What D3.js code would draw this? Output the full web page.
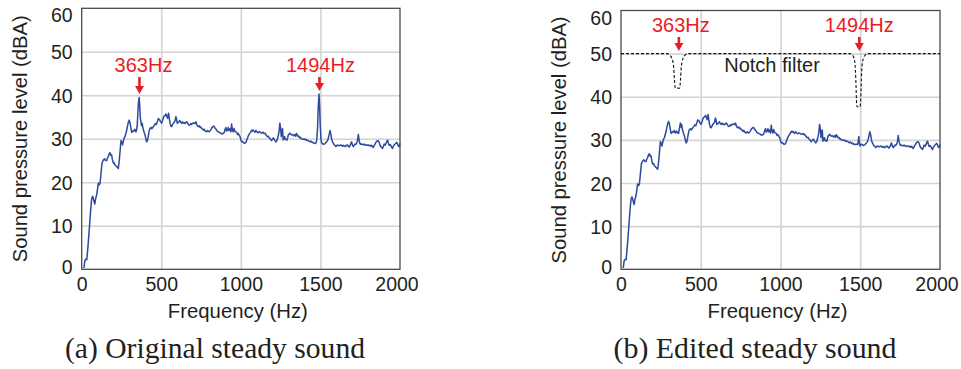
<!DOCTYPE html>
<html>
<head>
<meta charset="utf-8">
<script src="https://cdn.jsdelivr.net/npm/d3@7/dist/d3.min.js"></script>
<style>
  body { margin: 0; background: #fff; }
  svg { display: block; }
  .tick text { font-family: "Liberation Sans", Arial, sans-serif; font-size: 19.5px; fill: #231f20; }
  .grid line { stroke: #d4d4d4; stroke-width: 1.6px; }
  .grid .domain { display: none; }
</style>
</head>
<body>
<div id="chart"></div>
<script>
// spectrum of the original steady sound, [frequency Hz, level dBA]
var spectrum = [
  [14,0.3],[20,2.0],[26,2.3],[32,2.2],[40,5.5],[48,9.4],[56,13.5],[63,16.3],[69,16.8],[75,16.0],
  [82,15.0],[88,16.3],[94,17.1],[99,18.3],[104,19.8],[110,19.4],[115,19.7],[120,21.5],[128,24.5],[136,25.1],
  [144,25.4],[150,25.0],[157,25.0],[162,25.6],[167,25.9],[172,26.5],[178,26.8],[183,26.2],[188,26.3],[193,25.2],
  [199,24.4],[204,24.5],[209,24.0],[215,23.8],[220,23.6],[225,23.4],[230,23.2],[236,25.0],[242,27.5],[247,29.6],
  [251,29.3],[257,28.6],[262,29.5],[266,30.1],[272,30.5],[278,31.3],[283,32.0],[287,32.8],[293,33.8],[299,34.3],
  [304,33.6],[309,32.5],[314,31.5],[318,31.6],[323,31.9],[329,31.8],[334,32.2],[340,31.6],[345,32.0],[349,33.2],
  [353,36.0],[357,38.5],[361,39.5],[364,38.0],[368,35.0],[372,33.9],[376,33.0],[380,33.6],[385,32.4],[390,31.8],
  [394,31.3],[398,30.9],[403,30.0],[408,29.3],[413,29.6],[418,30.5],[424,31.8],[429,32.4],[435,32.6],[440,32.3],
  [446,32.6],[452,32.9],[458,33.2],[463,33.5],[469,33.3],[475,33.9],[481,34.6],[488,34.5],[494,34.0],[502,33.6],
  [508,34.2],[513,34.8],[517,35.2],[523,35.3],[530,35.7],[535,35.2],[540,34.7],[546,35.9],[550,34.8],[555,33.6],
  [560,32.9],[565,32.8],[570,33.2],[576,33.6],[581,33.8],[587,34.2],[592,35.1],[596,34.6],[600,33.6],[606,33.7],
  [612,34.0],[617,34.2],[622,33.8],[628,33.6],[633,33.9],[638,33.6],[644,33.7],[650,33.5],[655,33.8],[660,33.9],
  [665,33.7],[670,33.3],[675,33.1],[680,33.2],[686,33.5],[691,33.3],[696,33.6],[701,33.6],[706,33.7],[712,33.5],
  [718,33.9],[723,33.3],[728,32.9],[733,32.8],[739,33.0],[744,32.6],[749,32.7],[754,32.4],[759,32.3],[764,32.0],
  [770,32.2],[775,31.8],[780,31.7],[785,31.6],[791,31.9],[796,31.7],[801,31.6],[806,31.8],[812,32.1],[817,32.5],
  [822,32.7],[827,32.9],[831,32.9],[837,32.5],[842,32.3],[848,32.0],[853,31.7],[858,31.6],[863,31.5],[869,31.4],
  [874,31.3],[880,31.1],[885,31.2],[890,31.2],[896,31.5],[901,32.2],[906,32.6],[911,31.8],[916,32.0],[921,32.6],
  [926,31.9],[932,32.3],[937,31.6],[942,33.4],[947,32.0],[952,31.6],[957,32.4],[963,31.7],[968,31.6],[974,31.5],
  [979,31.0],[984,31.2],[990,30.8],[995,30.5],[1000,29.8],[1005,29.3],[1011,29.4],[1016,29.2],[1021,29.0],[1026,29.0],
  [1031,29.1],[1036,29.6],[1042,30.2],[1047,30.7],[1052,31.0],[1057,31.3],[1063,31.6],[1068,32.0],[1073,31.8],[1078,32.0],
  [1084,31.7],[1089,31.5],[1094,31.9],[1099,31.7],[1104,31.5],[1110,31.4],[1115,31.6],[1120,31.6],[1125,31.4],[1131,31.3],
  [1136,31.4],[1141,31.5],[1146,31.2],[1152,31.3],[1157,31.0],[1162,30.7],[1167,30.5],[1173,30.6],[1178,30.2],[1183,30.1],
  [1188,29.8],[1193,29.6],[1199,29.9],[1204,30.2],[1209,30.0],[1215,29.6],[1220,29.3],[1226,29.5],[1231,30.2],[1236,30.8],
  [1241,32.0],[1245,33.6],[1250,32.5],[1254,30.5],[1258,31.8],[1262,32.3],[1266,29.7],[1270,30.1],[1275,30.5],[1280,29.8],
  [1285,29.9],[1290,29.7],[1294,30.2],[1298,30.9],[1303,31.1],[1308,31.3],[1313,31.0],[1318,30.9],[1323,31.0],[1329,30.8],
  [1334,30.7],[1339,31.0],[1345,30.6],[1350,31.2],[1355,30.9],[1360,30.5],[1366,30.6],[1371,30.2],[1376,30.3],[1381,30.0],
  [1387,29.9],[1392,29.9],[1397,30.0],[1402,29.8],[1408,29.9],[1413,29.6],[1418,29.7],[1423,29.6],[1429,29.4],[1434,29.3],
  [1439,29.5],[1444,29.3],[1450,29.1],[1455,29.2],[1460,29.0],[1466,28.9],[1472,29.0],[1477,29.8],[1482,32.5],[1486,37.0],
  [1491,40.3],[1495,37.5],[1499,33.0],[1503,30.0],[1508,29.0],[1513,28.9],[1518,28.7],[1523,28.8],[1529,28.9],[1534,29.1],
  [1539,29.3],[1545,29.6],[1550,30.2],[1555,31.0],[1560,31.9],[1565,31.2],[1570,30.0],[1576,29.3],[1581,29.0],[1586,28.6],
  [1592,28.5],[1597,28.2],[1602,28.4],[1607,28.6],[1613,28.5],[1618,28.4],[1623,28.5],[1628,28.6],[1634,28.4],[1639,28.3],
  [1644,28.5],[1649,28.3],[1654,28.2],[1660,28.5],[1665,28.4],[1670,28.6],[1675,28.3],[1680,28.1],[1686,28.4],[1691,28.9],
  [1696,29.3],[1701,28.6],[1707,28.2],[1712,28.5],[1717,28.8],[1722,28.7],[1728,29.0],[1733,29.6],[1738,31.0],[1743,29.7],
  [1748,28.9],[1754,28.7],[1759,28.8],[1764,28.7],[1769,28.6],[1775,28.8],[1780,28.6],[1785,28.5],[1790,28.6],[1796,28.5],
  [1801,28.6],[1806,28.4],[1812,28.5],[1817,28.3],[1822,28.5],[1827,28.2],[1832,28.0],[1838,28.5],[1843,28.8],[1848,29.1],
  [1853,29.4],[1858,29.5],[1863,29.6],[1869,29.2],[1874,28.6],[1879,28.2],[1885,28.0],[1891,27.8],[1896,28.4],[1901,28.8],
  [1906,28.5],[1912,28.9],[1917,29.4],[1922,29.7],[1927,29.0],[1932,28.5],[1938,28.7],[1943,28.4],[1948,28.0],[1953,27.8],
  [1958,28.3],[1964,28.6],[1969,28.8],[1974,29.0],[1979,29.2],[1985,28.8],[1990,28.3],[1995,28.2],[2000,29.0]
];

// levels after the notch filter, replacing the original points near the peaks
var editedPoints = [
  [349,32.0],[353,31.6],[357,31.8],[361,31.5],[364,32.2],[368,33.0],
  [1477,29.0],[1482,28.9],[1486,29.3],[1491,30.8],[1495,29.0],[1499,28.6],[1503,29.0]
];

// notch filter response drawn in (b)
var notchFilter = [
  [0,50],[290,50],[305,49.7],[318,49],[326,48],[331,46.5],[335,44],[338,42.5],[341,42],[367,42],
  [370,42.5],[373,44],[377,46.5],[382,48],[390,49],[403,49.7],[418,50],
  [1435,50],[1450,49.7],[1460,49],[1466,48],[1470,46],[1474,42],[1477,38.5],[1480,37.7],[1499,37.7],
  [1502,38.5],[1505,42],[1509,46],[1514,48],[1521,49],[1532,49.7],[1548,50],[2000,50]
];

var peaks = [
  { freq: 363, label: "363Hz" },
  { freq: 1494, label: "1494Hz" }
];

var xTicks = [0, 500, 1000, 1500, 2000];
var yTicks = [0, 10, 20, 30, 40, 50, 60];
var captions = ["(a) Original steady sound", "(b) Edited steady sound"];

var editedMap = new Map(editedPoints.map(function(d) { return [d[0], d[1]]; }));
var editedSpectrum = spectrum.map(function(d) {
  return editedMap.has(d[0]) ? [d[0], editedMap.get(d[0])] : d;
});

var width = 961, height = 369;
var svg = d3.select("#chart").append("svg")
  .attr("width", width)
  .attr("height", height);

var sans = '"Liberation Sans", Arial, sans-serif';
var red = "#ec1c24";

function drawPanel(opt) {
  var x = d3.scaleLinear().domain([0, 2000]).range([opt.left, opt.right]);
  var y = d3.scaleLinear().domain([0, 60]).range([opt.bottom, opt.top]);
  var g = svg.append("g");

  // grid
  g.append("g").attr("class", "grid")
    .attr("transform", "translate(0," + opt.bottom + ")")
    .call(d3.axisBottom(x).tickValues(xTicks.slice(1, -1)).tickSize(-(opt.bottom - opt.top)).tickFormat(""));
  g.append("g").attr("class", "grid")
    .attr("transform", "translate(" + opt.left + ",0)")
    .call(d3.axisLeft(y).tickValues(yTicks.slice(1, -1)).tickSize(-(opt.right - opt.left)).tickFormat(""));

  // tick labels
  var ax = g.append("g")
    .attr("transform", "translate(0," + opt.bottom + ")")
    .call(d3.axisBottom(x).tickValues(xTicks).tickSize(0).tickPadding(8).tickFormat(d3.format("d")));
  ax.select(".domain").remove();
  ax.selectAll("text").attr("dy", "0.71em")
    .attr("dx", function(d) { return d === 2000 ? -3.5 : 0; });
  var ay = g.append("g")
    .attr("transform", "translate(" + opt.left + ",0)")
    .call(d3.axisLeft(y).tickValues(yTicks).tickSize(0).tickPadding(9));
  ay.select(".domain").remove();
  ay.selectAll("text")
    .attr("dy", function(d) { return d === 60 ? "0.7em" : d === 0 ? "0.22em" : "0.36em"; });

  // frame
  g.append("rect")
    .attr("x", opt.left).attr("y", opt.top)
    .attr("width", opt.right - opt.left).attr("height", opt.bottom - opt.top)
    .attr("fill", "none").attr("stroke", "#4a4a4a").attr("stroke-width", 1.3);

  var line = d3.line().x(function(d) { return x(d[0]); }).y(function(d) { return y(d[1]); });

  if (opt.filter) {
    g.append("path").datum(opt.filter)
      .attr("d", line.curve(d3.curveMonotoneX))
      .attr("fill", "none").attr("stroke", "#111").attr("stroke-width", 1.1)
      .attr("stroke-dasharray", "3,2");
    line.curve(d3.curveLinear);
    g.append("text")
      .attr("x", x(947)).attr("y", 72)
      .attr("text-anchor", "middle")
      .attr("font-family", sans).attr("font-size", 20).attr("fill", "#231f20")
      .text("Notch filter");
  }

  g.append("path").datum(opt.data)
    .attr("d", line)
    .attr("fill", "none").attr("stroke", "#2c4a9e").attr("stroke-width", 1.5)
    .attr("stroke-linejoin", "round");

  // peak labels and arrows
  peaks.forEach(function(p, i) {
    var px = x(p.freq);
    var a = opt.arrows[i];
    g.append("text")
      .attr("x", px + a.dx).attr("y", a.textY)
      .attr("text-anchor", "middle")
      .attr("font-family", sans).attr("font-size", 20).attr("fill", red)
      .text(p.label);
    g.append("line")
      .attr("x1", px).attr("x2", px)
      .attr("y1", a.y0).attr("y2", a.y1 - 6)
      .attr("stroke", red).attr("stroke-width", 2.6);
    g.append("path")
      .attr("d", "M" + (px - 4.5) + "," + (a.y1 - 8) + "L" + (px + 4.5) + "," + (a.y1 - 8) + "L" + px + "," + a.y1 + "Z")
      .attr("fill", red);
  });

  // axis titles
  g.append("text")
    .attr("transform", "translate(" + (opt.left - 55) + "," + ((opt.top + opt.bottom) / 2) + ") rotate(-90)")
    .attr("text-anchor", "middle")
    .attr("font-family", sans).attr("font-size", 20).attr("fill", "#231f20")
    .attr("textLength", 247).attr("lengthAdjust", "spacingAndGlyphs")
    .text("Sound pressure level (dBA)");
  g.append("text")
    .attr("x", (opt.left + opt.right) / 2 - 3).attr("y", 318)
    .attr("text-anchor", "middle")
    .attr("font-family", sans).attr("font-size", 20).attr("fill", "#231f20")
    .attr("textLength", 140).attr("lengthAdjust", "spacingAndGlyphs")
    .text("Frequency (Hz)");

  g.append("text")
    .attr("x", opt.captionX).attr("y", 358)
    .attr("text-anchor", "middle")
    .attr("font-family", '"Liberation Serif", "Times New Roman", serif')
    .attr("font-size", 30).attr("fill", "#231f20")
    .attr("textLength", opt.captionLen).attr("lengthAdjust", "spacingAndGlyphs")
    .text(opt.caption);
}

drawPanel({
  left: 81.7, right: 400, top: 8.3, bottom: 269.3,
  data: spectrum,
  arrows: [{ dx: 4, textY: 72, y0: 77, y1: 94 }, { dx: 1, textY: 72, y0: 77, y1: 91 }],
  caption: captions[0], captionX: 215, captionLen: 300
});

drawPanel({
  left: 621, right: 940, top: 10.5, bottom: 269.3,
  data: editedSpectrum,
  filter: notchFilter,
  arrows: [{ dx: 2, textY: 32, y0: 37, y1: 51 }, { dx: 0, textY: 32, y0: 37, y1: 51 }],
  caption: captions[1], captionX: 755, captionLen: 283
});
</script>
</body>
</html>
